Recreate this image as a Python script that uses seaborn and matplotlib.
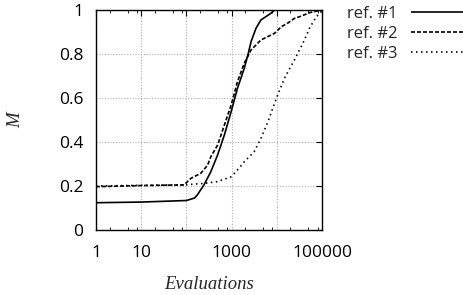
import matplotlib
matplotlib.use("Agg")
import matplotlib.pyplot as plt
import matplotlib.ticker as mticker
import seaborn as sns
import pandas as pd

# ---- data ----
ref1_x = [1, 10, 100, 150, 174, 245, 347, 490, 692, 977, 1349, 1905, 2291, 2692, 3467, 4467, 5754, 7413, 8913, 100000]
ref1_y = [0.124, 0.127, 0.134, 0.145, 0.159, 0.205, 0.265, 0.341, 0.432, 0.538, 0.644, 0.735, 0.795, 0.856, 0.917, 0.955, 0.97, 0.985, 1.0, 1.0]

ref2_x = [1, 10, 89, 126, 209, 295, 347, 490, 692, 977, 1349, 1905, 2692, 4467, 6310, 8913, 12590, 17380, 24550, 32400, 53700, 100000]
ref2_y = [0.197, 0.202, 0.205, 0.235, 0.258, 0.295, 0.333, 0.386, 0.477, 0.568, 0.674, 0.758, 0.818, 0.864, 0.879, 0.894, 0.924, 0.94, 0.962, 0.97, 0.988, 1.0]

ref3_x = [1, 10, 89, 245, 490, 977, 1349, 1905, 3162, 4467, 6310, 8128, 10470, 14790, 24550, 38000, 53700, 75000, 91000, 100000]
ref3_y = [0.20, 0.203, 0.205, 0.212, 0.22, 0.242, 0.273, 0.31, 0.356, 0.417, 0.49, 0.553, 0.614, 0.69, 0.773, 0.85, 0.92, 0.97, 0.985, 1.0]

labels = ["ref. #1", "ref. #2", "ref. #3"]
x_ticks = [1, 10, 100, 1000, 10000, 100000]
x_ticklabels = ["1", "10", "", "1000", "", "100000"]
y_ticks = [0, 0.2, 0.4, 0.6, 0.8, 1.0]
y_ticklabels = ["0", "0.2", "0.4", "0.6", "0.8", "1"]

sns.set_theme(style="white")
plt.rcParams["font.family"] = ["Open Sans", "DejaVu Sans"]

fig = plt.figure(figsize=(4.64, 2.95), dpi=100)
ax = fig.add_axes([96 / 464, 1 - 230 / 295, 226 / 464, 220 / 295])

styles = [(0, ()), (0, (2.4, 1.2)), (0, (0.9, 2.1))]
series = [(ref1_x, ref1_y), (ref2_x, ref2_y), (ref3_x, ref3_y)]
for (xs, ys), lab, ls in zip(series, labels, styles):
    df = pd.DataFrame({"x": xs, "y": ys})
    sns.lineplot(data=df, x="x", y="y", ax=ax, color="black", linewidth=1.2,
                 linestyle=ls, label=lab, sort=True, estimator=None)

ax.set_xscale("log")
ax.set_xlim(1, 100000)
ax.set_ylim(0, 1)
ax.xaxis.set_major_locator(mticker.FixedLocator(x_ticks))
ax.xaxis.set_major_formatter(mticker.FixedFormatter(x_ticklabels))
ax.xaxis.set_minor_locator(mticker.LogLocator(base=10, subs=(2, 5, 8), numticks=20))
ax.xaxis.set_minor_formatter(mticker.NullFormatter())
ax.yaxis.set_major_locator(mticker.FixedLocator(y_ticks))
ax.yaxis.set_major_formatter(mticker.FixedFormatter(y_ticklabels))

ax.grid(True, which="major", color="#b0b0b0", linestyle=(0, (1, 1.5)), linewidth=0.8)
for s in ax.spines.values():
    s.set_color("black")
    s.set_linewidth(1.0)
    s.set_visible(True)

ax.tick_params(which="major", direction="in", length=4, width=0.8, color="black",
               top=True, right=True, labelsize=12.5, pad=9, labelcolor="black")
ax.tick_params(which="minor", direction="in", length=2.5, width=0.6, color="black",
               top=True, right=False, bottom=True)
ax.tick_params(axis="x", which="major", pad=10.5)

ax.set_xlabel("Evaluations", fontsize=13.5, style="italic",
              family=["Liberation Serif", "DejaVu Serif"])
ax.set_ylabel("M", fontsize=13.5, style="italic",
              family=["Liberation Serif", "DejaVu Serif"])
ax.xaxis.set_label_coords(0.5, (230 - 276) / 220)
ax.yaxis.set_label_coords((24 - 96) / 226, 0.5)

leg = ax.legend(loc="upper left", bbox_to_anchor=(347 / 464, 1 - 6 / 295),
                bbox_transform=fig.transFigure, frameon=False, markerfirst=False,
                fontsize=12, handlelength=3.3, handletextpad=0.8, labelspacing=0.25,
                borderpad=0, borderaxespad=0)

fig.savefig("out.png", dpi=100)
